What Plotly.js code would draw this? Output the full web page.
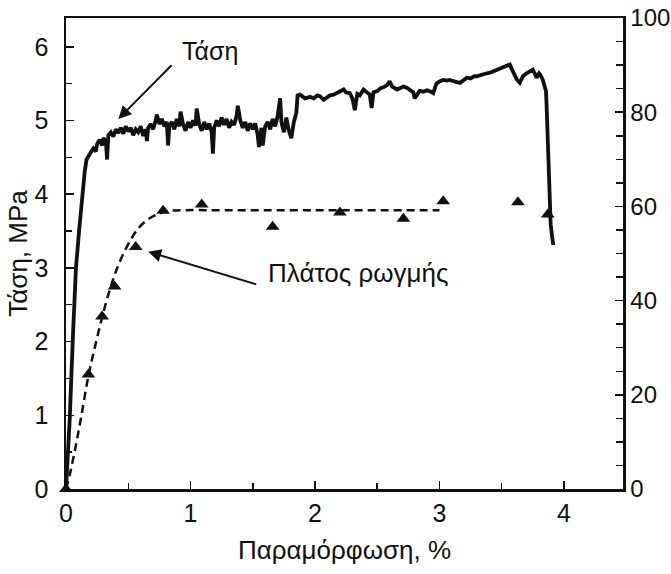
<!DOCTYPE html>
<html>
<head>
<meta charset="utf-8">
<script src="https://cdn.plot.ly/plotly-3.0.1.min.js"></script>
<style>html,body{margin:0;padding:0;background:#fff;}#chart{width:671px;height:574px;}</style>
</head>
<body>
<div id="chart"></div>
<script>
// Stress curve (left axis, MPa) vs strain (%)
const stressX = [0,0.03,0.055,0.08,0.105,0.13,0.15,0.165,0.18,0.20,
0.22,0.24,0.25,0.27,0.29,0.30,0.32,0.33,0.34,0.36,0.38,0.40,0.42,0.44,0.46,0.48,0.50,0.52,0.54,0.56,0.58,0.60,0.62,0.64,0.65,0.66,0.68,0.70,0.72,0.73,0.75,0.77,0.79,0.81,0.82,0.83,0.85,0.87,0.89,0.91,0.92,0.94,0.96,0.98,1.00,1.02,1.04,1.05,1.07,1.09,1.11,1.13,1.15,1.17,1.18,1.19,1.21,1.23,1.25,1.27,1.29,1.31,1.33,1.35,1.37,1.38,1.40,1.42,1.44,1.46,1.48,1.50,1.52,1.54,1.55,1.57,1.58,1.60,1.62,1.64,1.66,1.68,1.70,1.72,1.73,1.75,1.77,1.79,1.81,1.83,1.85,
1.86,1.88,1.92,1.96,1.99,2.02,2.04,2.07,2.09,2.12,2.15,2.18,2.21,2.23,2.25,2.28,2.30,2.32,2.34,2.36,2.39,2.42,2.44,2.455,2.47,2.50,2.53,2.55,2.58,2.60,2.62,2.66,2.69,2.71,2.74,2.76,2.79,2.80,2.82,2.84,2.87,2.90,2.93,2.95,2.975,3.00,3.03,3.06,3.08,3.11,3.14,3.165,3.19,3.22,3.25,3.28,3.30,3.33,3.36,3.38,3.41,3.44,3.46,3.49,3.52,3.54,3.565,3.58,3.605,3.62,3.645,3.67,3.70,3.72,3.75,3.77,3.78,3.80,3.81,3.83,3.845,3.855,3.86,3.866,3.874,3.882,3.893,3.905,3.914];
const stressY = [0,0.95,2.05,3.0,3.5,4.0,4.3,4.47,4.52,4.57,
4.62,4.58,4.68,4.74,4.66,4.76,4.72,4.47,4.80,4.84,4.78,4.88,4.83,4.90,4.82,4.92,4.85,4.90,4.80,4.88,4.84,4.92,4.79,4.88,4.72,4.90,4.95,4.88,5.00,5.08,4.95,5.02,4.92,4.98,4.66,4.92,4.98,4.88,5.02,4.92,5.12,4.95,4.86,4.98,4.90,5.00,4.93,5.16,4.95,4.86,4.98,4.88,4.96,4.84,4.55,4.90,5.00,4.92,5.04,4.94,5.02,4.90,4.98,4.94,5.06,5.20,5.00,4.90,4.98,4.86,4.96,4.88,4.96,4.80,4.64,4.90,4.66,4.92,4.98,4.88,5.02,4.92,5.06,5.30,4.98,4.84,5.04,4.86,4.76,4.98,5.10,
5.34,5.35,5.30,5.32,5.30,5.34,5.33,5.28,5.31,5.34,5.35,5.38,5.41,5.42,5.38,5.37,5.30,5.14,5.36,5.34,5.42,5.38,5.35,5.17,5.38,5.40,5.44,5.45,5.48,5.53,5.46,5.42,5.45,5.46,5.44,5.42,5.38,5.30,5.36,5.40,5.39,5.41,5.39,5.37,5.50,5.53,5.55,5.54,5.55,5.53,5.52,5.51,5.55,5.58,5.57,5.60,5.60,5.62,5.63,5.64,5.65,5.67,5.69,5.70,5.72,5.74,5.76,5.70,5.62,5.56,5.51,5.60,5.64,5.66,5.69,5.62,5.58,5.64,5.62,5.55,5.48,5.40,5.22,4.85,4.40,3.95,3.59,3.42,3.31];

// Crack width measurements (right axis)
const crackX = [0,0.18,0.29,0.39,0.56,0.78,1.09,1.66,2.20,2.71,3.03,3.63,3.87];
const crackY = [0,24.3,36.6,43.0,51.4,59.1,60.4,55.7,58.7,57.4,61.1,60.9,58.3];

// Fitted dashed curve (right axis)
const fitX = [0,0.03,0.07,0.12,0.18,0.24,0.30,0.36,0.42,0.50,0.58,0.66,0.74,0.82,0.95,1.2,2.0,3.0];
const fitY = [0,3,8,15,24,31,37.5,43,47.5,52,55.3,57.3,58.4,59.0,59.2,59.2,59.2,59.2];

const xTitle = 'Παραμόρφωση, %';
const yTitle = 'Τάση, MPa';
const labelStress = 'Τάση';
const labelCrack = 'Πλάτος ρωγμής';

const FONT = 'Liberation Sans, Arial, Helvetica, sans-serif';

const traces = [
  {x: stressX, y: stressY, type: 'scatter', mode: 'lines',
   line: {color: '#111', width: 3.8}, xaxis: 'x', yaxis: 'y', hoverinfo: 'skip'},
  {x: fitX, y: fitY, type: 'scatter', mode: 'lines', line: {color: '#111', width: 2.5, dash: '8px,5px', shape: 'spline'},
   xaxis: 'x', yaxis: 'y2'},
  {x: crackX, y: crackY, type: 'scatter', mode: 'markers', cliponaxis: false,
   marker: {symbol: 'triangle-up', size: 12, color: '#111'}, xaxis: 'x', yaxis: 'y2'}
];

const layout = {
  width: 671, height: 574,
  margin: {l: 66, r: 48, t: 18, b: 85},
  paper_bgcolor: '#fff', plot_bgcolor: '#fff',
  showlegend: false,
  font: {family: FONT, size: 24, color: '#111'},
  xaxis: {
    range: [0, 4.474], dtick: 1, tick0: 0, ticks: 'inside', ticklen: 8, tickwidth: 1.5, tickcolor: '#111',
    minor: {dtick: 0.5, ticks: 'inside', ticklen: 6, tickwidth: 1.5, tickcolor: '#111'},
    showline: true, linewidth: 2.5, linecolor: '#111', mirror: true,
    showgrid: false, zeroline: false,
    tickfont: {size: 25},
    title: {text: xTitle, font: {size: 26}, standoff: 16}
  },
  yaxis: {
    range: [0, 6.39], dtick: 1, tick0: 0, ticks: 'inside', ticklen: 8, tickwidth: 1.5, tickcolor: '#111',
    minor: {dtick: 0.5, ticks: 'inside', ticklen: 6, tickwidth: 1.5, tickcolor: '#111'},
    showline: true, linewidth: 2.5, linecolor: '#111',
    showgrid: false, zeroline: false,
    tickfont: {size: 25}, ticklabelstandoff: 10,
    title: {text: yTitle, font: {size: 26}, standoff: 0}
  },
  yaxis2: {
    overlaying: 'y', side: 'right', range: [0, 100], dtick: 20, tick0: 0,
    ticks: 'inside', ticklen: 8, tickwidth: 1.5, tickcolor: '#111',
    minor: {dtick: 5, ticks: 'inside', ticklen: 7, tickwidth: 1.5, tickcolor: '#111'},
    showline: true, linewidth: 2.5, linecolor: '#111',
    showgrid: false, zeroline: false,
    tickfont: {size: 24}, ticklabelstandoff: 0
  },
  annotations: [
    {x: 0.42, y: 5.02, xref: 'x', yref: 'y', ax: 0.86, ay: 5.77, axref: 'x', ayref: 'y',
     text: '', showarrow: true, arrowhead: 2, arrowsize: 1.3, arrowwidth: 2, arrowcolor: '#111'},
    {x: 1.16, y: 5.94, xref: 'x', yref: 'y', text: labelStress, showarrow: false,
     font: {size: 25, color: '#111'}},
    {x: 0.66, y: 3.22, xref: 'x', yref: 'y', ax: 1.54, ay: 2.77, axref: 'x', ayref: 'y',
     text: '', showarrow: true, arrowhead: 2, arrowsize: 1.3, arrowwidth: 2, arrowcolor: '#111'},
    {x: 2.35, y: 2.93, xref: 'x', yref: 'y', text: labelCrack, showarrow: false,
     font: {size: 26, color: '#111'}}
  ]
};

Plotly.newPlot('chart', traces, layout, {displayModeBar: false, staticPlot: true});
</script>
</body>
</html>
